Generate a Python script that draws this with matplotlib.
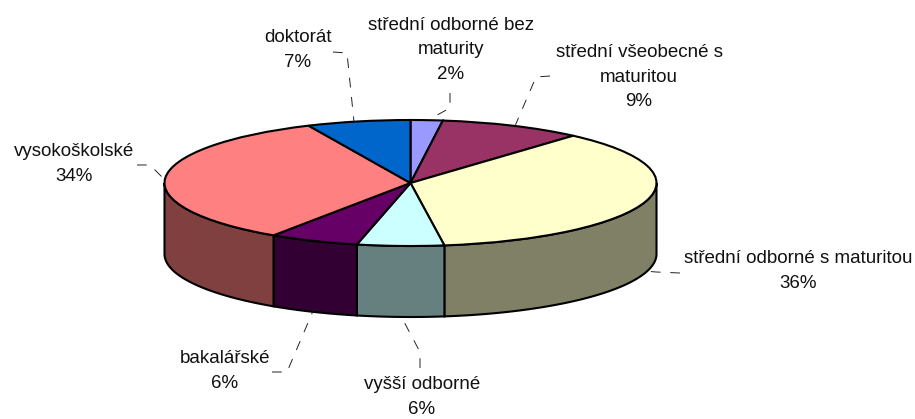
import numpy as np
import matplotlib
matplotlib.use('Agg')
import matplotlib.pyplot as plt

plt.rcParams['font.family'] = ['Liberation Sans', 'DejaVu Sans']

categories = ['střední odborné bez\nmaturity', 'střední všeobecné s\nmaturitou',
              'střední odborné s maturitou', 'vyšší odborné', 'bakalářské',
              'vysokoškolské', 'doktorát']
values = [2.1, 9.4, 36.3, 5.7, 5.9, 33.8, 6.8]
top_colors = ['#9999FF', '#993366', '#FFFFCC', '#CCFFFF', '#660066', '#FF8080', '#0066CC']
side_colors = ['#4C4C80', '#4C1933', '#808066', '#668080', '#330033', '#804040', '#003366']

# label centres and leader lines, in pixels
label_pos = [(451, 50), (639, 77), (798, 271), (422, 397), (225, 371), (74, 164), (298, 50)]
leaders = [
    [(450, 93), (450, 108), (428, 120)],
    [(550, 76), (536, 77), (515, 126)],
    [(680, 273), (656, 272), (645, 271)],
    [(420, 368), (420, 352), (402, 318)],
    [(272, 372), (287, 372), (313, 311)],
    [(137, 165), (150, 165), (164, 179)],
    [(333, 52), (347, 53), (354, 122)],
]

W, H = 915, 419
cx, cy, rx, ry, depth = 410.5, 183, 246, 63, 71

fig = plt.figure(figsize=(W / 100, H / 100), dpi=100)
ax = fig.add_axes([0, 0, 1, 1])

# side walls, only the front half (angles -180..0) is visible
bounds = 90 - np.cumsum([0] + values) * 3.6
d = depth / ry
for i, v in enumerate(values):
    lo, hi = max(bounds[i + 1], -180), min(bounds[i], 0)
    if lo >= hi:
        continue
    t = np.radians(np.linspace(lo, hi, 80))
    xs = np.r_[np.cos(t), np.cos(t[::-1])]
    ys = np.r_[np.sin(t), np.sin(t[::-1]) - d]
    ax.fill(xs, ys, facecolor=side_colors[i], edgecolor='black', lw=1.5, zorder=1)

ax.pie(values, colors=top_colors, startangle=90, counterclock=False, radius=1,
       wedgeprops={'edgecolor': 'black', 'linewidth': 1.5, 'zorder': 2})
ax.set_aspect('auto')
ax.set_xlim(-cx / rx, (W - cx) / rx)
ax.set_ylim(-(H - cy) / ry, cy / ry)
ax.axis('off')

# overlay in pixel coordinates for the text
over = fig.add_axes([0, 0, 1, 1])
over.set_xlim(0, W)
over.set_ylim(H, 0)
over.axis('off')
over.patch.set_alpha(0)

for name, v, (x, y) in zip(categories, values, label_pos):
    over.text(x, y, '%s\n%d%%' % (name, round(v)), ha='center', va='center',
              fontsize=13.5, linespacing=1.58, color='#111111')
for pts in leaders:
    over.plot([p[0] for p in pts], [p[1] for p in pts], color='#222222', lw=0.7,
              dashes=(10, 10))

fig.savefig('out.png', dpi=100)
